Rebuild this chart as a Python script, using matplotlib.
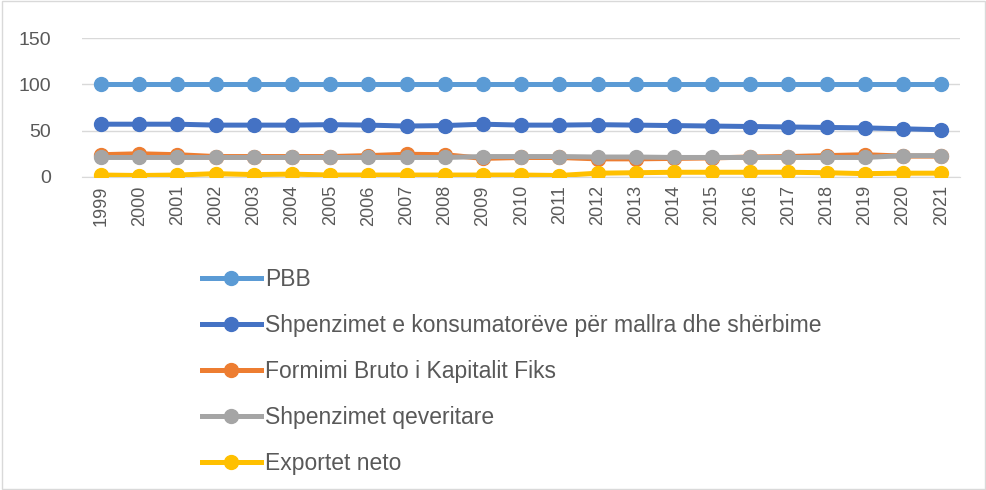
import numpy as np
import matplotlib
matplotlib.use('Agg')
import matplotlib.pyplot as plt
from matplotlib.patches import Rectangle

plt.rcParams['font.family'] = ['Liberation Sans', 'DejaVu Sans']

years = [str(y) for y in range(1999, 2022)]

pbb = [100] * 23
konsum = [57, 57, 57, 56, 56, 56, 56.5, 56, 55, 55.5, 57, 56, 56, 56.5, 56,
          55.5, 55, 54.5, 54, 53.5, 53, 52, 51]
kapital = [24, 25, 24, 22, 22, 22, 22, 23, 24.5, 24, 20, 21, 21, 19.5, 19.5,
           20, 20.5, 21.5, 22, 23, 24, 22.5, 22.5]
qeveri = [21, 21, 21, 21, 21, 21, 21, 21, 21, 21, 22, 22, 22, 21.5, 21.5,
          21, 21, 21, 21, 21, 21, 23, 23]
eksport = [2, 1.5, 2, 3.5, 2.5, 3, 2, 2, 2, 2, 2, 2, 1.5, 4, 4.5,
           5, 5, 5, 5, 4.5, 3.5, 4, 4]

series = [
    ('PBB', pbb, '#5B9BD5'),
    ('Shpenzimet e konsumatorëve për mallra dhe shërbime', konsum, '#4472C4'),
    ('Formimi Bruto i Kapitalit Fiks', kapital, '#ED7D31'),
    ('Shpenzimet qeveritare', qeveri, '#A5A5A5'),
    ('Exportet neto', eksport, '#FFC000'),
]

text_color = '#595959'

fig = plt.figure(figsize=(9.87, 4.90), dpi=100)
ax = fig.add_axes([0.083, 0.639, 0.890, 0.283])

x = np.arange(len(years))
handles = []
for label, vals, color in series:
    h, = ax.plot(x, vals, color=color, linewidth=3.6, marker='o',
                 markersize=10, label=label, zorder=3)
    handles.append(h)

ax.set_xlim(-0.5, len(years) - 0.5)
ax.set_ylim(0, 150)
ax.set_yticks([0, 50, 100, 150])
ax.set_xticks(x)
ax.set_xticklabels(years, rotation=90)
ax.tick_params(axis='both', length=0, labelsize=13, colors=text_color)
ax.tick_params(axis='y', labelsize=14, pad=22)
ax.tick_params(axis='x', pad=6)
ax.grid(axis='y', color='#D9D9D9', linewidth=1)
ax.set_axisbelow(True)
for side in ['top', 'right', 'left']:
    ax.spines[side].set_visible(False)
ax.spines['bottom'].set_color('#D9D9D9')

leg = fig.legend(handles=handles, loc='upper left',
                 bbox_to_anchor=(0.195, 0.471), frameon=False,
                 fontsize=16.5, handlelength=2.6, handletextpad=0.15,
                 labelspacing=1.0, labelcolor=text_color,
                 borderaxespad=0)

fig.patches.append(Rectangle((0.002, 0.003), 0.996, 0.994,
                             transform=fig.transFigure, fill=False,
                             edgecolor='#D9D9D9', linewidth=1))

fig.savefig('out.png', dpi=100)
